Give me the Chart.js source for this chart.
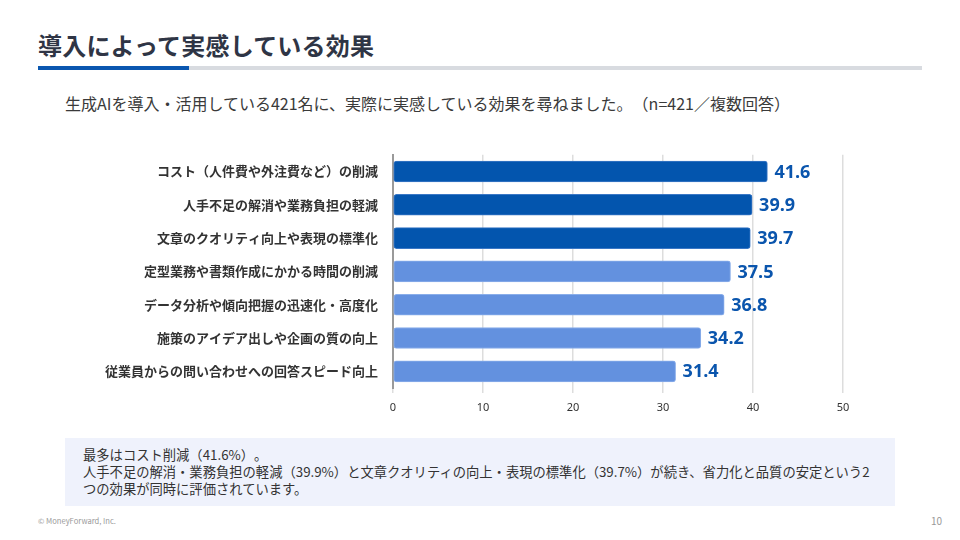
<!DOCTYPE html>
<html><head><meta charset="utf-8">
<script src="https://cdn.jsdelivr.net/npm/chart.js@4.4.1/dist/chart.umd.min.js"></script>
<style>
html,body{margin:0;padding:0;background:#fff;}
body{width:960px;height:540px;position:relative;overflow:hidden;font-family:"Noto Sans CJK JP","Noto Sans",sans-serif;text-spacing-trim:space-all;}
#title{position:absolute;left:38px;top:27px;font-size:24px;font-weight:700;color:#2f3545;letter-spacing:0.2px;white-space:nowrap;}
#lineGrey{position:absolute;left:38px;top:66px;width:884px;height:4px;background:#d8dbe0;}
#lineBlue{position:absolute;left:38px;top:66px;width:151px;height:4px;background:#0a57b0;}
#sub{position:absolute;left:65px;top:91px;font-size:16px;color:#3a3a3a;white-space:nowrap;}
#chartWrap{position:absolute;left:0;top:140px;width:960px;height:290px;}
#note{position:absolute;left:65px;top:438px;width:830px;height:68px;background:#eff2fc;}
#noteText{position:absolute;left:18px;top:8px;font-size:13.3px;line-height:17px;color:#333;white-space:nowrap;}
#foot{position:absolute;left:38px;top:515px;font-size:7.6px;color:#999;}
#page{position:absolute;left:931px;top:513px;font-size:10px;color:#999;}
</style></head>
<body>
<div id="title">導入によって実感している効果</div>
<div id="lineGrey"></div><div id="lineBlue"></div>
<div id="sub">生成AIを導入・活用している421名に、実際に実感している効果を尋ねました。（n=421／複数回答）</div>
<div id="chartWrap"><canvas id="c" width="960" height="290"></canvas></div>
<div id="note"><div id="noteText">最多はコスト削減（41.6%）。<br>人手不足の解消・業務負担の軽減（39.9%）と文章クオリティの向上・表現の標準化（39.7%）が続き、省力化と品質の安定という2<br>つの効果が同時に評価されています。</div></div>
<div id="foot">© MoneyForward, Inc.</div>
<div id="page">10</div>
<script>
const categories = [
  "コスト（人件費や外注費など）の削減",
  "人手不足の解消や業務負担の軽減",
  "文章のクオリティ向上や表現の標準化",
  "定型業務や書類作成にかかる時間の削減",
  "データ分析や傾向把握の迅速化・高度化",
  "施策のアイデア出しや企画の質の向上",
  "従業員からの問い合わせへの回答スピード向上"
];
const values = [41.6, 39.9, 39.7, 37.5, 36.8, 34.2, 31.4];
const highlight = [true, true, true, false, false, false, false];
const xTicks = [0, 10, 20, 30, 40, 50];

const DARK = "#0355ae";
const LIGHT = "#6391df";

const valueLabels = {
  id: "valueLabels",
  afterDatasetsDraw(chart) {
    const ctx = chart.ctx;
    const meta = chart.getDatasetMeta(0);
    ctx.save();
    ctx.font = "700 18px 'Open Sans', 'DejaVu Sans', sans-serif";
    ctx.fillStyle = "#0a55ad";
    ctx.textAlign = "left";
    ctx.textBaseline = "middle";
    meta.data.forEach((bar, i) => {
      ctx.fillText(values[i].toFixed(1), bar.x + 7, bar.y + 1);
    });
    ctx.restore();
  }
};

new Chart(document.getElementById("c"), {
  type: "bar",
  data: {
    labels: categories,
    datasets: [{
      data: values,
      backgroundColor: values.map((v, i) => highlight[i] ? DARK : LIGHT),
      borderColor: values.map((v, i) => highlight[i] ? "#3b78c6" : "#8aaeea"),
      borderWidth: 1,
      borderRadius: 3,
      borderSkipped: false,
      barThickness: 21
    }]
  },
  options: {
    indexAxis: "y",
    responsive: false,
    animation: false,
    devicePixelRatio: 1,
    layout: { padding: { top: 14, right: 117, bottom: 6, left: 0 } },
    plugins: { legend: { display: false }, tooltip: { enabled: false } },
    scales: {
      x: {
        min: 0, max: 50,
        afterBuildTicks(scale) { scale.ticks = xTicks.map(v => ({ value: v })); },
        grid: { color: "#dddddd", lineWidth: 1.5, tickLength: 5, drawTicks: true },
        border: { display: false },
        ticks: { color: "#333", font: { size: 11, family: "'Noto Sans', sans-serif" }, padding: 8 },
        afterFit(scale) { scale.height = 36; }
      },
      y: {
        grid: { display: false },
        border: { display: true, color: "#9a9a9a", width: 2 },
        ticks: { color: "#333", font: { size: 13, weight: "700", family: "'Noto Sans CJK JP', sans-serif" }, padding: 7 },
        afterFit(scale) { scale.width = 393; }
      }
    }
  },
  plugins: [valueLabels]
});
</script>
</body></html>
